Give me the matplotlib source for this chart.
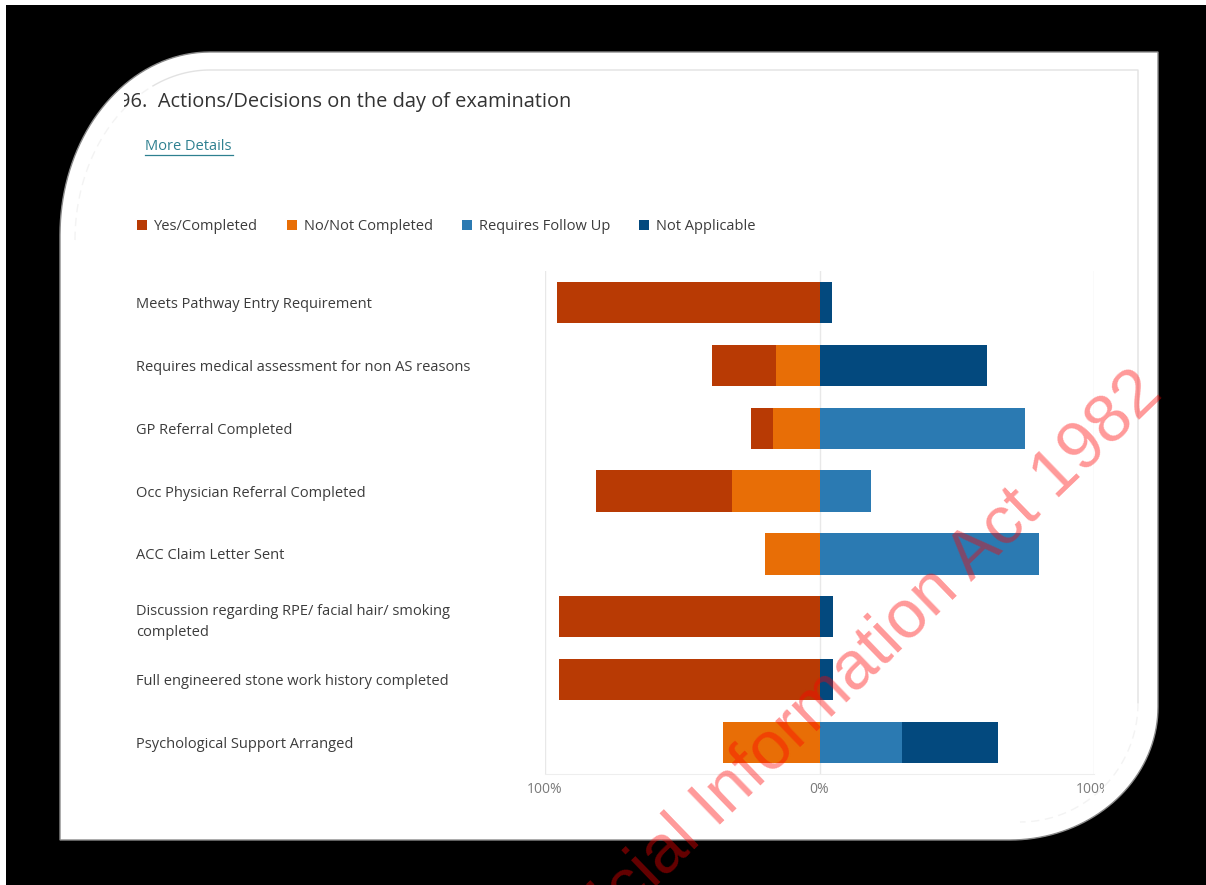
import matplotlib.pyplot as plt
from matplotlib.path import Path
from matplotlib.patches import PathPatch, Rectangle
from matplotlib.transforms import Bbox, TransformedBbox
import numpy as np

plt.rcParams['font.family'] = ['Open Sans', 'DejaVu Sans']

# survey question 96 - share of responses per action (percent)
categories = [
    'Meets Pathway Entry Requirement',
    'Requires medical assessment for non AS reasons',
    'GP Referral Completed',
    'Occ Physician Referral Completed',
    'ACC Claim Letter Sent',
    'Discussion regarding RPE/ facial hair/ smoking\ncompleted',
    'Full engineered stone work history completed',
    'Psychological Support Arranged',
]
yes_completed = [95.6, 23.0, 8.0, 49.6, 0.0, 95.0, 95.0, 0.0]
no_not_completed = [0.0, 16.0, 17.0, 31.8, 20.0, 0.0, 0.0, 35.0]
requires_follow_up = [0.0, 0.0, 75.0, 18.6, 80.0, 0.0, 0.0, 30.0]
not_applicable = [4.4, 61.0, 0.0, 0.0, 0.0, 5.0, 5.0, 35.0]

series_names = ['Yes/Completed', 'No/Not Completed', 'Requires Follow Up', 'Not Applicable']
series_colors = ['#B83A04', '#E86E06', '#2B7AB2', '#03497E']
tick_values = [-100, 0, 100]
tick_labels = ['100%', '0%', '100%']

W, H = 1206, 885
fig = plt.figure(figsize=(W / 100, H / 100), dpi=100)
fig.patch.set_facecolor('black')

# pixel-space background layer
bg = fig.add_axes([0, 0, 1, 1])
bg.set_xlim(0, W)
bg.set_ylim(H, 0)
bg.axis('off')


def arc(cx, cy, rx, ry, a0, a1, n=40):
    t = np.radians(np.linspace(a0, a1, n))
    return list(zip(cx + rx * np.cos(t), cy + ry * np.sin(t)))


def closed(pts):
    codes = [Path.MOVETO] + [Path.LINETO] * (len(pts) - 1) + [Path.CLOSEPOLY]
    return Path(pts + [pts[0]], codes)


def fig_box(x0, x1):
    return TransformedBbox(Bbox.from_extents(x0 / W, 0, x1 / W, 1), fig.transFigure)


# white page with two rounded corners
pts = arc(210, 235, 150, 183, 180, 270)
pts += [(1158, 52), (1158, 707)]
pts += arc(1010, 707, 148, 133, 0, 90)
pts += [(60, 840)]
page = PathPatch(closed(pts), facecolor='white', edgecolor='#8a8a8a', lw=1)
bg.add_patch(page)

bg.add_patch(Rectangle((0, 0), W, 5, facecolor='white', edgecolor='none'))
bg.add_patch(Rectangle((0, 0), 6, H, facecolor='white', edgecolor='none'))

# faint inner card outline
top_edge = np.array(arc(210, 240, 135, 170, 245, 270) + [(1138, 70), (1138, 703)])
bg.plot(top_edge[:, 0], top_edge[:, 1], color='#e2e2e2', lw=1)
for seg in (arc(210, 240, 135, 170, 180, 245), arc(1020, 703, 118, 119, 0, 90)):
    seg = np.array(seg)
    bg.plot(seg[:, 0], seg[:, 1], color='#f3f3f3', lw=1, ls=(0, (6, 4)))

title = bg.text(119, 102, '96.  Actions/Decisions on the day of examination',
                fontsize=14.4, color='#333333', va='center')
title.set_clip_on(True)
title.set_clip_box(fig_box(124, W))

bg.text(145, 147, 'More Details', fontsize=10.5, color='#2e8090', va='center')
bg.plot([145, 233], [155, 155], color='#2e8090', lw=0.9)

# diverging stacked bars
ax = fig.add_axes([545 / W, 1 - 774 / H, 549 / W, 503 / H])
y = np.arange(len(categories))
yes = np.array(yes_completed)
no = np.array(no_not_completed)
fu = np.array(requires_follow_up)
na = np.array(not_applicable)
h = 0.655

b_yes = ax.barh(y, -yes, left=-no, height=h, color=series_colors[0])
b_no = ax.barh(y, -no, left=0, height=h, color=series_colors[1])
b_fu = ax.barh(y, fu, left=0, height=h, color=series_colors[2])
b_na = ax.barh(y, na, left=fu, height=h, color=series_colors[3])

ax.set_xlim(-100, 100)
ax.set_ylim(len(categories) - 0.5, -0.5)
ax.set_xticks(tick_values, tick_labels)
ax.set_yticks(y, categories)
ax.grid(axis='x', color='#e8e8e8', lw=1)
ax.set_axisbelow(True)
for s in ['top', 'left', 'right']:
    ax.spines[s].set_visible(False)
ax.spines['bottom'].set_color('#eeeeee')
ax.tick_params(axis='x', length=0, pad=6, labelsize=10, labelcolor='#7a7a7a')
ax.tick_params(axis='y', length=0, pad=409 * 0.72, labelsize=10.5, labelcolor='#3c3c3c')
for lbl in ax.get_yticklabels():
    lbl.set_ha('left')
    lbl.set_linespacing(1.6)
right_lbl = ax.get_xticklabels()[-1]
right_lbl.set_clip_on(True)
right_lbl.set_clip_box(fig_box(0, 1104))

fig.legend([b_yes, b_no, b_fu, b_na], series_names, loc='upper left',
           bbox_to_anchor=(137 / W, 1 - 219 / H), ncol=4, frameon=False,
           fontsize=10.5, labelcolor='#3c3c3c', handlelength=0.7, handleheight=0.7,
           handletextpad=0.45, columnspacing=2.0, borderpad=0, borderaxespad=0)

# release stamp across the page
fig.text(1164, 395, 'Released under the Official Information Act 1982',
         transform=bg.transData, rotation=44, rotation_mode='anchor',
         ha='right', va='baseline', fontsize=49, family='Liberation Sans',
         color='red', alpha=0.4, zorder=10)

fig.savefig('out.png', dpi=100, facecolor=fig.get_facecolor())
